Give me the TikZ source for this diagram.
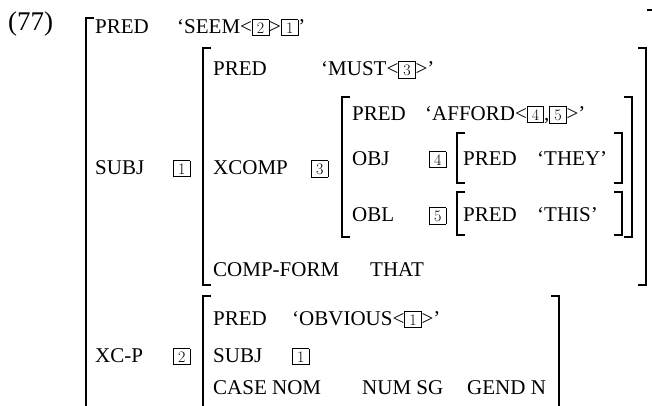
\documentclass[tikz,border=0pt]{standalone}
\usepackage{fontspec}
\newfontfamily\tms{Liberation Serif}
\newcommand\nb[1]{{\setlength\fboxsep{2.4pt}\setlength\fboxrule{0.7pt}\fbox{\makebox[11pt]{\normalfont\fontsize{16}{16}\selectfont #1}}}}
\tikzset{
  lab/.style={anchor=base west, inner sep=0pt, font=\tms\fontsize{21}{23}\selectfont},
  brk/.style={line width=1.4pt},
}
\begin{document}
\begin{tikzpicture}[x=1pt,y=-1pt]
\useasboundingbox (0,0) rectangle (652,405);
\clip (0,0) rectangle (652,405);
% example number
\node[lab,font=\tms\fontsize{27}{30}\selectfont] (ex) at (8,30) {(77)};
% outer matrix
\draw[brk] (94,18) -- (86,18) -- (86,420);
\draw[brk] (647,10) -- (658,10);
\node[lab] (p1) at (95,33) {PRED};
\node[lab] (v1) at (177,33) {‘SEEM<\nb{2}>\nb{1}’};
\node[lab] (subj) at (95,174) {SUBJ};
\node[lab] (t1) at (173,174) {\nb{1}};
\node[lab] (xcp) at (95,362) {XC-P};
\node[lab] (t2) at (173,362) {\nb{2}};
% MUST matrix
\draw[brk] (211,48) -- (203,48) -- (203,285) -- (211,285);
\draw[brk] (638,48) -- (646,48) -- (646,285) -- (638,285);
\node[lab] (p2) at (213,75) {PRED};
\node[lab] (v2) at (321,75) {‘MUST<\nb{3}>’};
\node[lab] (xc) at (213,174) {XCOMP};
\node[lab] (t3) at (311,174) {\nb{3}};
\node[lab] (cf) at (213,276) {COMP-FORM};
\node[lab] (that) at (370,276) {THAT};
% AFFORD matrix
\draw[brk] (350,97) -- (342,97) -- (342,237) -- (350,237);
\draw[brk] (624,97) -- (632,97) -- (632,237) -- (624,237);
\node[lab] (p3) at (352,120) {PRED};
\node[lab] (v3) at (425,120) {‘AFFORD<\nb{4},\nb{5}>’};
\node[lab] (obj) at (352,165) {OBJ};
\node[lab] (t4) at (429,165) {\nb{4}};
\node[lab] (obl) at (352,221) {OBL};
\node[lab] (t5) at (429,221) {\nb{5}};
% THEY matrix
\draw[brk] (465,133) -- (457,133) -- (457,183) -- (465,183);
\draw[brk] (614,133) -- (622,133) -- (622,183) -- (614,183);
\node[lab] (p4) at (463,165) {PRED};
\node[lab] (v4) at (537,165) {‘THEY’};
% THIS matrix
\draw[brk] (465,192) -- (457,192) -- (457,235) -- (465,235);
\draw[brk] (614,192) -- (622,192) -- (622,235) -- (614,235);
\node[lab] (p5) at (463,221) {PRED};
\node[lab] (v5) at (537,221) {‘THIS’};
% OBVIOUS matrix
\draw[brk] (211,296) -- (203,296) -- (203,420);
\draw[brk] (551,296) -- (559,296) -- (559,420);
\node[lab] (p6) at (213,325) {PRED};
\node[lab] (v6) at (292,325) {‘OBVIOUS<\nb{1}>’};
\node[lab] (s6) at (213,362) {SUBJ};
\node[lab] (t6) at (292,362) {\nb{1}};
\node[lab] (cn) at (213,394) {CASE NOM};
\node[lab] (ns) at (362,394) {NUM SG};
\node[lab] (gn) at (467,394) {GEND N};
\end{tikzpicture}
\end{document}
